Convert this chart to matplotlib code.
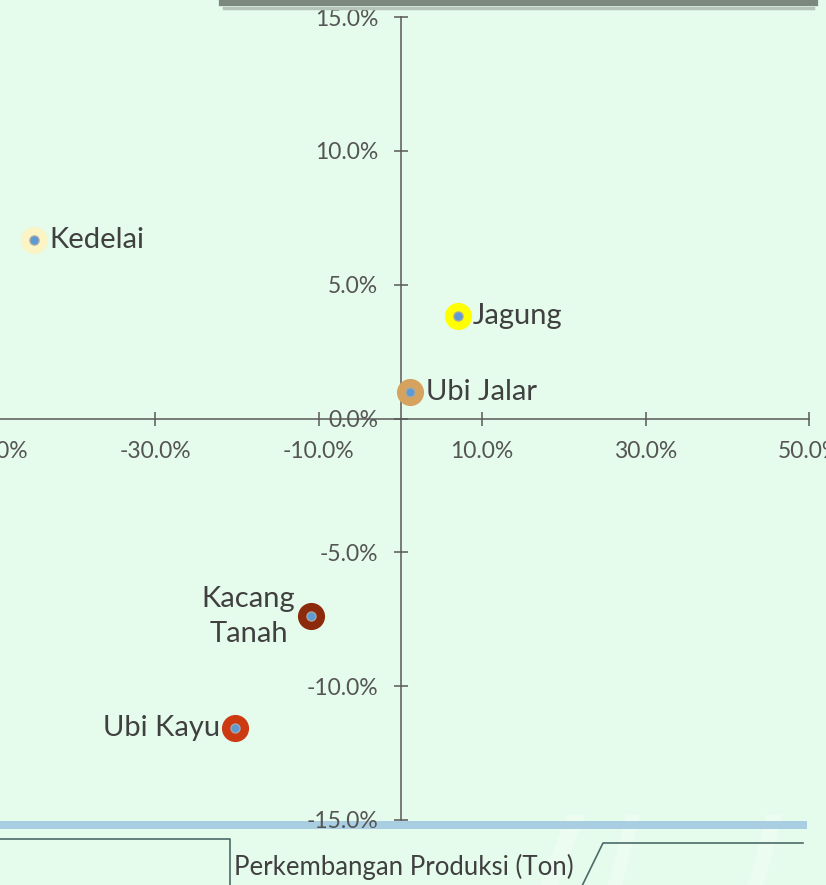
import numpy as np
import matplotlib.pyplot as plt
from matplotlib.lines import Line2D
from matplotlib.patches import Polygon, Rectangle
from matplotlib.ticker import FuncFormatter

plt.rcParams['font.family'] = ['Lato', 'DejaVu Sans']

# Data: pertumbuhan luas panen (x) vs pertumbuhan produksi (y), dalam persen
komoditas = ['Kedelai', 'Jagung', 'Ubi Jalar', 'Kacang\nTanah', 'Ubi Kayu']
x_nilai = [-44.9, 7.0, 1.2, -11.0, -20.2]
y_nilai = [6.68, 3.84, 1.0, -7.39, -11.57]
warna = ['#fbf4c4', '#ffff00', '#d6a35e', '#8c2a0c', '#cc3a12']
posisi_label = ['kanan', 'kanan', 'kanan', 'kiri', 'kiri']

x_ticks = [-50, -30, -10, 10, 30, 50]
y_ticks = [-15, -10, -5, 0, 5, 10, 15]

W, H = 826, 885
bg = '#e5fbec'


def px(x, y):
    # pixel (dari kiri atas) -> koordinat figure
    return x / W, 1 - y / H


fig = plt.figure(figsize=(W / 100, H / 100), dpi=100)
fig.patch.set_facecolor(bg)

# Hiasan latar: garis putih miring samar
for pts in [[(540, 885), (558, 885), (585, 815), (567, 815)],
            [(608, 885), (622, 885), (640, 815), (626, 815)],
            [(748, 885), (764, 885), (782, 815), (766, 815)]]:
    fig.patches.append(Polygon([px(*p) for p in pts], closed=True,
                               transform=fig.transFigure, facecolor='white',
                               edgecolor='none', alpha=0.3, zorder=-2))

ax = fig.add_axes([-8 / W, 65 / H, 817 / W, 803 / H])
ax.set_facecolor('none')
ax.set_xlim(-50, 50)
ax.set_ylim(-15, 15)

for s in ['top', 'right']:
    ax.spines[s].set_visible(False)
ax.spines['left'].set_position(('data', 0))
ax.spines['bottom'].set_position(('data', 0))
for s in ['left', 'bottom']:
    ax.spines[s].set_color('#595959')
    ax.spines[s].set_linewidth(1.1)

ax.set_xticks(x_ticks)
ax.set_yticks(y_ticks)
fmt = FuncFormatter(lambda v, p: f'{v:.1f}%')
ax.xaxis.set_major_formatter(fmt)
ax.yaxis.set_major_formatter(fmt)
ax.tick_params(direction='inout', length=10, width=1.1, color='#595959',
               pad=11, labelsize=16.5, labelcolor='#555555')

# Titik: lingkaran luar berwarna + titik biru di tengah
for xi, yi, c in zip(x_nilai, y_nilai, warna):
    ax.plot(xi, yi, 'o', ms=18.5, mfc=c, mec=c, zorder=3, clip_on=False)
    ax.plot(xi, yi, 'o', ms=6.5, mfc='#5b9bd5', mec='#a6a6a6', mew=1.0,
            zorder=4, clip_on=False)

for xi, yi, lab, pos in zip(x_nilai, y_nilai, komoditas, posisi_label):
    if pos == 'kanan':
        ax.annotate(lab, (xi, yi), xytext=(11, 0), textcoords='offset points',
                    ha='left', va='center', fontsize=21, color='#404040')
    else:
        ax.annotate(lab, (xi, yi), xytext=(-11, 0), textcoords='offset points',
                    ha='right', va='center', fontsize=21, color='#404040',
                    multialignment='center', linespacing=1.45)

# Bingkai atas (kotak judul yang terpotong)
fig.lines.append(Line2D([222 / W, 815 / W], [1 - 3 / H, 1 - 3 / H],
                        transform=fig.transFigure, color='#7b887e', lw=4.5))
fig.lines.append(Line2D([224 / W, 813 / W], [1 - 7.5 / H, 1 - 7.5 / H],
                        transform=fig.transFigure, color='#b4c4b8', lw=2.5))

# Pita biru bawah (di belakang sumbu)
x0, y0 = px(0, 829)
fig.patches.append(Rectangle((x0, y0), 807 / W, 8 / H,
                             transform=fig.transFigure, facecolor='#a9cee2',
                             edgecolor='none', zorder=-1))

# Garis bingkai bawah
kotak = [px(0, 839), px(230, 839), px(230, 886)]
fig.lines.append(Line2D([p[0] for p in kotak], [p[1] for p in kotak],
                        transform=fig.transFigure, color='#4c6a6a', lw=1.2))
miring = [px(582, 886), px(603, 843), px(803, 843)]
fig.lines.append(Line2D([p[0] for p in miring], [p[1] for p in miring],
                        transform=fig.transFigure, color='#4c6a6a', lw=1.2))

tx, ty = px(234, 867)
fig.text(tx, ty, 'Perkembangan Produksi (Ton)', ha='left', va='center',
         fontsize=18.5, color='#404040')

fig.savefig('out.png', dpi=100, facecolor=bg)
